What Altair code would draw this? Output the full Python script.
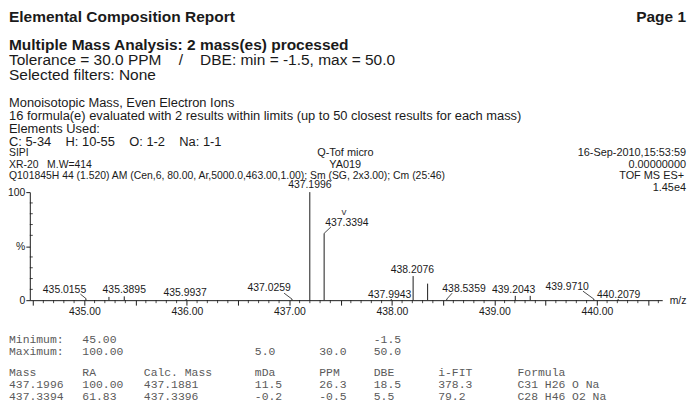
import altair as alt
import pandas as pd

# ---------------- data ----------------
peak_mz = [435.0155, 435.24, 435.3895, 435.9937, 437.0259, 437.1996, 437.3394,
           437.9943, 438.2076, 438.349, 438.5359, 439.2043, 439.35, 439.9710, 440.2079]
peak_int = [1.5, 3.0, 3.5, 1.0, 1.0, 100.0, 61.83,
            1.0, 22.3, 15.3, 1.0, 4.0, 4.0, 1.0, 1.0]
peak_labels = ["435.0155", "", "435.3895", "435.9937", "437.0259", "437.1996", "437.3394",
               "437.9943", "438.2076", "", "438.5359", "439.2043", "", "439.9710", "440.2079"]

x_major = [434.5, 435.0, 435.5, 436.0, 436.5, 437.0, 437.5, 438.0, 438.5,
           439.0, 439.5, 440.0, 440.5]
x_minor = [round(434.5 + 0.1 * i, 1) for i in range(62)]
x_minor = [v for v in x_minor if v not in x_major]
y_major = [0, 50, 100]
y_minor = [10, 20, 30, 40, 60, 70, 80, 90]

NB = "\u00a0"
header_lines = [
    "Elemental Composition Report",
    "Page 1",
    "Multiple Mass Analysis: 2 mass(es) processed",
    "Tolerance = 30.0 PPM" + NB * 4 + "/" + NB * 4 + "DBE: min = -1.5, max = 50.0",
    "Selected filters: None",
    "Monoisotopic Mass, Even Electron Ions",
    "16 formula(e) evaluated with 2 results within limits (up to 50 closest results for each mass)",
    "Elements Used:",
    "C: 5-34" + NB * 4 + "H: 10-55" + NB * 4 + "O: 1-2" + NB * 4 + "Na: 1-1",
]
info_left = ["SIPI", "XR-20" + NB * 3 + "M.W=414",
             "Q101845H 44 (1.520) AM (Cen,6, 80.00, Ar,5000.0,463.00,1.00); Sm (SG, 2x3.00); Cm (25:46)"]
info_mid = ["Q-Tof micro", "YA019"]
info_right = ["16-Sep-2010,15:53:59", "0.00000000", "TOF MS ES+", "1.45e4"]

table_rows = [
    ["Minimum:", "45.00", "", "", "", "-1.5", "", ""],
    ["Maximum:", "100.00", "", "5.0", "30.0", "50.0", "", ""],
    ["Mass", "RA", "Calc. Mass", "mDa", "PPM", "DBE", "i-FIT", "Formula"],
    ["437.1996", "100.00", "437.1881", "11.5", "26.3", "18.5", "378.3", "C31 H26 O Na"],
    ["437.3394", "61.83", "437.3396", "-0.2", "-0.5", "5.5", "79.2", "C28 H46 O2 Na"],
]

# ---------------- layout ----------------
W, H = 638, 109           # spectrum plot area
X0, Y0 = 30, 192          # page position of plot origin
x_domain = [434.468, 440.638]
PX_MZ = W / (x_domain[1] - x_domain[0])
PX_PCT = H / 100.0

label_dx = [-21.6, 0, 0, -1, -23, 0, 23, -1.6, -0.7, 0, 17.4, -1.7, 0, -27, 0.5]
label_dy = [-8.4, 0, -6.5, -6, -11, -7, -10.6, -4, -5.7, 0, -10, -5.6, 0, -12, -4]
leader = {0: (-5.6, -4.5), 4: (-8, -6), 6: (7, -6.6), 10: (5.4, -6), 13: (-11, -8)}

col_x = [9, 83, 145, 257, 322, 377, 442, 522]
row_y = [344, 356, 378, 390, 402]

FONT = "Liberation Sans"
MONO = "Liberation Mono"
INK = "#1a1a1a"

df_peaks = pd.DataFrame({"mz": peak_mz, "inten": peak_int})
df_labels = pd.DataFrame({
    "lx": [m + dx / PX_MZ for m, dx in zip(peak_mz, label_dx)],
    "ly": [i - dy / PX_PCT for i, dy in zip(peak_int, label_dy)],
    "label": peak_labels,
})
df_labels = df_labels[df_labels["label"] != ""]
lead_rows = []
for k, (dx, dy) in leader.items():
    lead_rows.append({"x": peak_mz[k], "y": peak_int[k],
                      "x2": peak_mz[k] + dx / PX_MZ, "y2": peak_int[k] - dy / PX_PCT})
df_lead = pd.DataFrame(lead_rows)

xs = alt.Scale(domain=x_domain, nice=False, zero=False)
ys = alt.Scale(domain=[0, 100], nice=False)

x_axis = alt.Axis(values=x_major, tickSize=5, tickColor=INK, domainColor=INK,
                  labelExpr="datum.value % 1 == 0 ? format(datum.value, '.2f') : ''",
                  labelFont=FONT, labelFontSize=10.5, labelColor=INK, labelPadding=1,
                  labelFlush=False, labelOverlap=False, grid=False,
                  title="m/z", titleX=645, titleY=0, titleAlign="left",
                  titleBaseline="middle", titleFontWeight="normal", titleFont=FONT,
                  titleFontSize=10.5, titleColor=INK)
y_axis = alt.Axis(values=y_major, tickSize=4, tickColor=INK, domainColor=INK,
                  labelExpr="datum.value == 50 ? '%' : datum.label",
                  labelFont=FONT, labelFontSize=10.5, labelColor=INK, labelPadding=1,
                  grid=False, title=None)

peaks = alt.Chart(df_peaks).mark_rule(color=INK, strokeWidth=1).encode(
    x=alt.X("mz:Q", scale=xs, axis=x_axis),
    y=alt.Y("inten:Q", scale=ys, axis=y_axis),
    y2=alt.datum(0),
)
minor_x = alt.Chart(pd.DataFrame({"v": x_minor})).mark_rule(color=INK, strokeWidth=0.8).encode(
    x=alt.X("v:Q", axis=x_axis), y=alt.value(H), y2=alt.value(H + 3))
minor_y = alt.Chart(pd.DataFrame({"v": y_minor})).mark_rule(color=INK, strokeWidth=0.8).encode(
    y=alt.Y("v:Q", axis=y_axis), x=alt.value(0), x2=alt.value(3))
labels = alt.Chart(df_labels).mark_text(font=FONT, fontSize=10.5, color=INK,
                                        baseline="middle", align="center").encode(
    x=alt.X("lx:Q", axis=x_axis), y=alt.Y("ly:Q", axis=y_axis), text="label:N")
leaders = alt.Chart(df_lead).mark_rule(color=INK, strokeWidth=0.8).encode(
    x=alt.X("x:Q", axis=x_axis), y=alt.Y("y:Q", axis=y_axis), x2="x2:Q", y2="y2:Q")
check = alt.Chart(pd.DataFrame({"mz": [peak_mz[6]], "inten": [peak_int[6]], "t": ["v"]})).mark_text(
    font=FONT, fontSize=10, color="#444", baseline="middle", dx=20, dy=-22).encode(
    x=alt.X("mz:Q", axis=x_axis), y=alt.Y("inten:Q", axis=y_axis), text="t:N")


def txt(s, px, py, size, weight="normal", align="left", font=FONT, color=INK):
    return alt.Chart(pd.DataFrame({"t": [s]})).mark_text(
        font=font, fontSize=size, fontWeight=weight, align=align,
        baseline="alphabetic", color=color).encode(
        x=alt.value(px - X0), y=alt.value(py - Y0), text="t:N")


cells = []
for r, row in enumerate(table_rows):
    for c, t in enumerate(row):
        if t:
            cells.append(txt(t, col_x[c], row_y[r], 11.5, font=MONO, color="#5a5a5a"))

hdr = [
    txt(header_lines[0], 9, 20, 15.6, "bold"),
    txt(header_lines[1], 692, 20, 15.6, "bold", "right"),
    txt(header_lines[2], 9, 49, 15.6, "bold"),
    txt(header_lines[3], 9, 64, 15.6),
    txt(header_lines[4], 9, 79, 15.6),
    txt(header_lines[5], 9, 106, 13),
    txt(header_lines[6], 9, 119, 13),
    txt(header_lines[7], 9, 132, 13),
    txt(header_lines[8], 9, 145, 13),
    txt(info_left[0], 9, 156, 10.5),
    txt(info_left[1], 9, 168, 10.5),
    txt(info_left[2], 9, 179, 10.5),
    txt(info_mid[0], 320, 156, 11),
    txt(info_mid[1], 332, 168, 11),
    txt(info_right[0], 692, 156, 11, align="right"),
    txt(info_right[1], 692, 168, 11, align="right"),
    txt(info_right[2], 690, 179, 11, align="right"),
    txt(info_right[3], 692, 191, 11, align="right"),
]

chart = alt.layer(peaks, minor_x, minor_y, leaders, labels, check, *cells, *hdr).properties(
    width=W, height=H,
    padding={"left": 22, "top": 184, "right": 27, "bottom": 103},
    autosize="none",
).configure_view(stroke=None)

chart.save("out.html", embed_options={"renderer": "svg", "actions": False})
